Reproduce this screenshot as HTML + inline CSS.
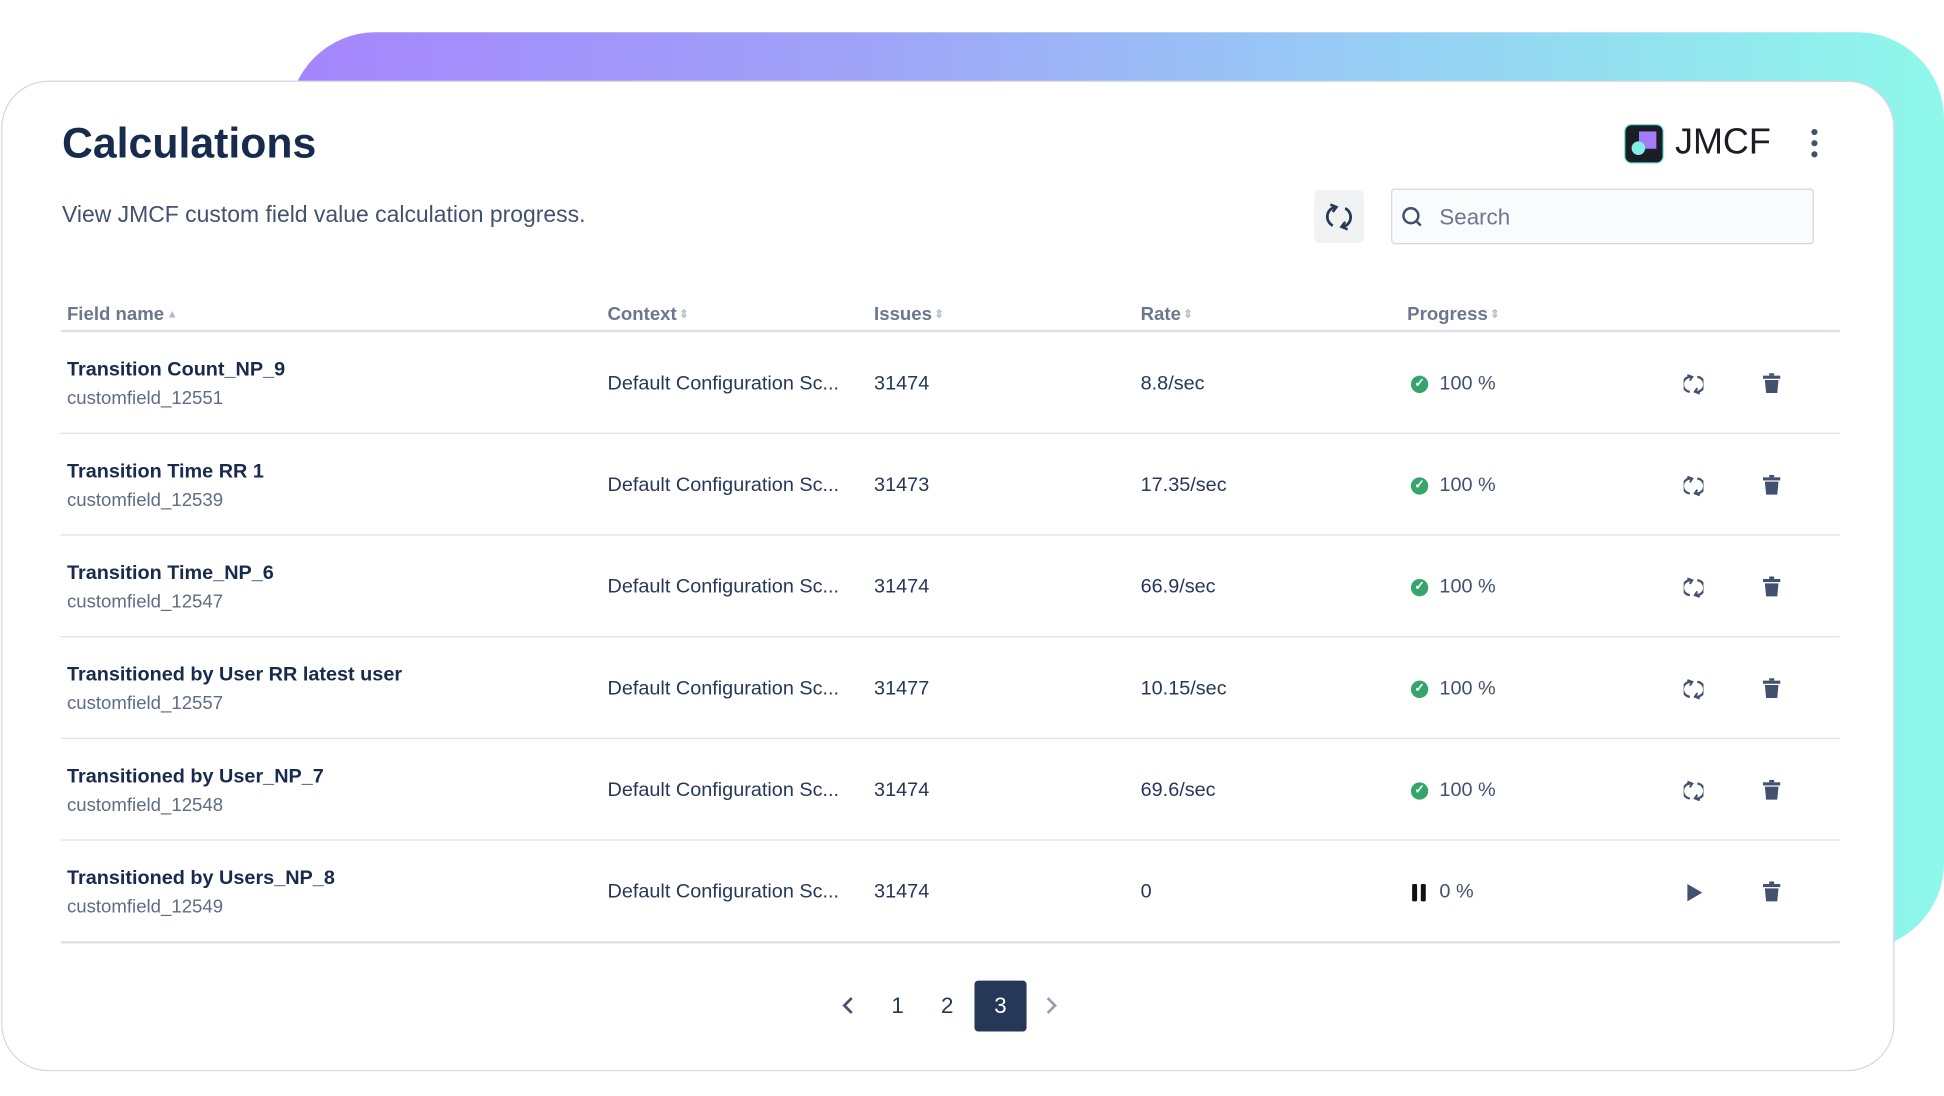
<!DOCTYPE html>
<html><head><meta charset="utf-8">
<style>
*{margin:0;padding:0;box-sizing:border-box}
html,body{width:1944px;height:1096px;overflow:hidden;background:#fff;font-family:"Liberation Sans",Arial,sans-serif}
#w{position:absolute;left:0;top:0;width:1568px;height:884px;transform:scale(1.23980);transform-origin:0 0}
.a{position:absolute;white-space:nowrap}
.grad{position:absolute;left:233px;top:26px;width:1335px;height:740px;border-radius:70px;background:linear-gradient(90deg,#a585fd 0%,#9fa4f8 35%,#97cdf5 65%,#8ef8ea 100%)}
.card{position:absolute;left:1px;top:65px;width:1527px;height:799px;background:#fff;border:1.5px solid #d8d8dc;border-radius:38px}
.h{font-size:15px;font-weight:bold;color:#6b778c}
.h i{font-style:normal;font-size:9px;color:#b3bac5;margin-left:2px;vertical-align:2px}
.nm{font-size:16px;font-weight:bold;color:#172b4d}
.sb{font-size:15px;color:#5e6c84}
.v{font-size:16px;color:#253858}
.sep{position:absolute;left:49px;width:1435px;height:1px;background:#dfe1e6}
.ok{position:absolute;width:14px;height:14px;border-radius:50%;background:#36a56b;color:#fff;font-size:10px;line-height:14px;text-align:center;font-weight:bold}
</style></head><body><div id="w">
<div class="grad"></div>
<div class="card"></div>
<div class="a" style="left:50px;top:97px;font-size:34.5px;font-weight:bold;color:#172b4d">Calculations</div>
<div class="a" style="left:50px;top:162px;font-size:18.5px;color:#42526e">View JMCF custom field value calculation progress.</div>
<div class="a" style="left:1060px;top:153px;width:40px;height:43px;background:#f1f2f4;border-radius:4px"></div>
<svg class="a" style="left:1069px;top:163px" width="22" height="24"><path d="M8 4 A8 8 0 0 0 6 19" fill="none" stroke="#253858" stroke-width="2.2"/><path d="M4 2 L9 4 L6 8" fill="none" stroke="#253858" stroke-width="2"/><path d="M14 20 A8 8 0 0 0 16 5" fill="none" stroke="#253858" stroke-width="2.2"/><path d="M18 22 L13 20 L16 16" fill="none" stroke="#253858" stroke-width="2"/></svg>
<div class="a" style="left:1122px;top:152px;width:341px;height:45px;border:1.5px solid #d5d8de;border-radius:3px;background:#fafbfc"></div>
<svg class="a" style="left:1130px;top:166px" width="18" height="18"><circle cx="8" cy="8" r="6" fill="none" stroke="#42526e" stroke-width="2"/><line x1="12.5" y1="12.5" x2="16" y2="16" stroke="#42526e" stroke-width="2"/></svg>
<div class="a" style="left:1161px;top:165px;font-size:18px;color:#6b778c">Search</div>
<div class="a" style="left:1310px;top:100px;width:32px;height:32px;border-radius:6px;background:#1a1d24;border:1px solid #6ee7df"></div>
<div class="a" style="left:1322px;top:106px;width:14px;height:14px;background:#a47cf9"></div>
<div class="a" style="left:1316px;top:114px;width:11px;height:11px;border-radius:50%;background:#7ef0e6"></div>
<div class="a" style="left:1351px;top:99px;font-size:29px;color:#1a1d24">JMCF</div>
<div class="a" style="left:1461px;top:104px;width:5px;height:5px;border-radius:50%;background:#42526e;box-shadow:0 9px 0 #42526e,0 18px 0 #42526e"></div>

<div class="a h" style="left:54px;top:245px">Field name<i>▲</i></div>
<div class="a h" style="left:490px;top:245px">Context<i>⇕</i></div>
<div class="a h" style="left:705px;top:245px">Issues<i>⇕</i></div>
<div class="a h" style="left:920px;top:245px">Rate<i>⇕</i></div>
<div class="a h" style="left:1135px;top:245px">Progress<i>⇕</i></div>
<div class="sep" style="top:266px;height:2px"></div>

<div id="rows"></div>
<script>
var d=[["Transition Count_NP_9","customfield_12551","31474","8.8/sec",1],
["Transition Time RR 1","customfield_12539","31473","17.35/sec",1],
["Transition Time_NP_6","customfield_12547","31474","66.9/sec",1],
["Transitioned by User RR latest user","customfield_12557","31477","10.15/sec",1],
["Transitioned by User_NP_7","customfield_12548","31474","69.6/sec",1],
["Transitioned by Users_NP_8","customfield_12549","31474","0",0]];
var h="";
var ic='<path d="M6 3 A6 6 0 0 0 5 15" fill="none" stroke="#42526e" stroke-width="1.8"/><path d="M3 1.5 L7 3 L5 6" fill="none" stroke="#42526e" stroke-width="1.6"/><path d="M10 15 A6 6 0 0 0 11 3" fill="none" stroke="#42526e" stroke-width="1.8"/><path d="M13 16.5 L9 15 L11 12" fill="none" stroke="#42526e" stroke-width="1.6"/>';
d.forEach(function(r,i){var t=268+i*82;var c=t+42;
h+='<div class="a nm" style="left:54px;top:'+(t+22)+'px">'+r[0]+'</div>';
h+='<div class="a sb" style="left:54px;top:'+(t+45)+'px">'+r[1]+'</div>';
h+='<div class="a v" style="left:490px;top:'+(c-9)+'px">Default Configuration Sc...</div>';
h+='<div class="a v" style="left:705px;top:'+(c-9)+'px">'+r[2]+'</div>';
h+='<div class="a v" style="left:920px;top:'+(c-9)+'px">'+r[3]+'</div>';
if(r[4]){h+='<div class="ok" style="left:1138px;top:'+(c-7)+'px">✓</div><div class="a v" style="left:1161px;top:'+(c-9)+'px;color:#42526e">100 %</div>';
h+='<svg class="a" style="left:1358px;top:'+(c-9)+'px" width="16" height="18">'+ic+'</svg>';}
else{h+='<div class="a" style="left:1139px;top:'+(c-7)+'px;width:4px;height:14px;background:#111;border-radius:1px"></div><div class="a" style="left:1146px;top:'+(c-7)+'px;width:4px;height:14px;background:#111;border-radius:1px"></div><div class="a v" style="left:1161px;top:'+(c-9)+'px;color:#42526e">0 %</div>';
h+='<svg class="a" style="left:1360px;top:'+(c-8)+'px" width="14" height="16"><path d="M1 1 L13 8 L1 15Z" fill="#42526e"/></svg>';}
h+='<svg class="a" style="left:1422px;top:'+(c-9)+'px" width="14" height="17"><rect x="0" y="2" width="14" height="2.5" fill="#42526e"/><rect x="5" y="0" width="4" height="2" fill="#42526e"/><path d="M1.5 5.5 H12.5 L11.5 16 H2.5Z" fill="#42526e"/></svg>';
h+='<div class="sep" style="top:'+(t+81)+'px;'+(i==5?'height:2px':'')+'"></div>';});
document.getElementById("rows").innerHTML=h;
</script>

<svg class="a" style="left:678px;top:803px" width="12" height="16"><path d="M9 2 L3 8 L9 14" fill="none" stroke="#42526e" stroke-width="2.2"/></svg>
<div class="a" style="left:719px;top:801px;font-size:18px;color:#253858">1</div>
<div class="a" style="left:759px;top:801px;font-size:18px;color:#253858">2</div>
<div class="a" style="left:786px;top:791px;width:42px;height:41px;background:#253858;border-radius:3px;color:#fff;font-size:18px;text-align:center;line-height:41px">3</div>
<svg class="a" style="left:842px;top:803px" width="12" height="16"><path d="M3 2 L9 8 L3 14" fill="none" stroke="#97a0af" stroke-width="2.2"/></svg>
</div></body></html>
